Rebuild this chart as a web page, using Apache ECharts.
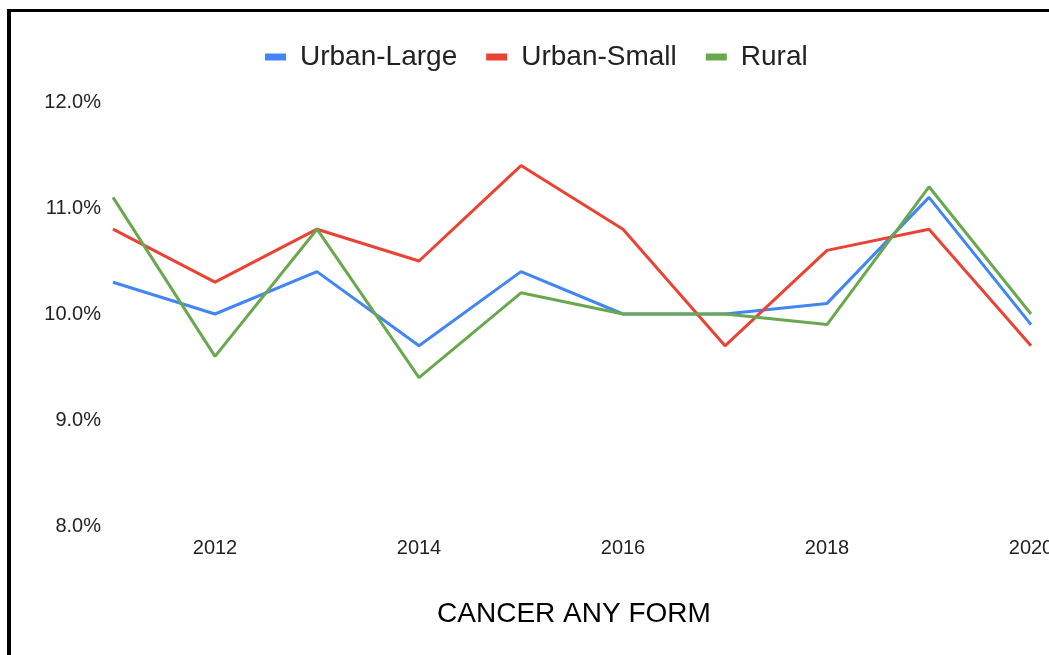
<!DOCTYPE html>
<html>
<head>
<meta charset="utf-8">
<title>CANCER ANY FORM</title>
<script src="https://cdn.jsdelivr.net/npm/echarts@6/dist/echarts.min.js"></script>
<style>
  html, body { margin: 0; padding: 0; background: #fff; overflow: hidden; }
  #frame {
    position: absolute; left: 7px; top: 9px; width: 1200px; height: 800px;
    border-left: 4px solid #000; border-top: 3px solid #000;
  }
  #chart { position: absolute; left: 0; top: 0; width: 1049px; height: 655px; }
</style>
</head>
<body>
<div id="frame"></div>
<div id="chart"></div>
<script>
// Years on the horizontal axis
const years = ['2011', '2012', '2013', '2014', '2015', '2016', '2017', '2018', '2019', '2020'];

// Share of population (%) by area type
const urbanLarge = [10.3, 10.0, 10.4, 9.7, 10.4, 10.0, 10.0, 10.1, 11.1, 9.9];
const urbanSmall = [10.8, 10.3, 10.8, 10.5, 11.4, 10.8, 9.7, 10.6, 10.8, 9.7];
const rural = [11.1, 9.6, 10.8, 9.4, 10.2, 10.0, 10.0, 9.9, 11.2, 10.0];

// Value axis range and step
const yMin = 8;
const yMax = 12;
const yStep = 1;

const font = 'Arial, "Liberation Sans", sans-serif';

const chart = echarts.init(document.getElementById('chart'), null, { renderer: 'canvas' });

function lineSeries(name, data, color) {
  return {
    name: name,
    type: 'line',
    data: data,
    symbol: 'none',
    smooth: false,
    lineStyle: { width: 3, color: color },
    itemStyle: { color: color },
    emphasis: { disabled: true }
  };
}

chart.setOption({
  animation: false,
  backgroundColor: 'transparent',
  textStyle: { fontFamily: font },
  title: {
    text: 'CANCER ANY FORM',
    left: 569,
    textAlign: 'center',
    top: 595,
    textStyle: { fontFamily: font, fontSize: 28, fontWeight: 'normal', color: '#000' }
  },
  legend: {
    left: 265,
    top: 43,
    padding: 0,
    icon: 'rect',
    itemWidth: 21,
    itemHeight: 7,
    itemGap: 29,
    textStyle: { fontFamily: font, fontSize: 28, color: '#222', padding: [0, 0, 0, 9] },
    data: ['Urban-Large', 'Urban-Small', 'Rural']
  },
  grid: { left: 113, right: 18, top: 102, bottom: 129, containLabel: false, outerBoundsMode: 'none' },
  xAxis: {
    type: 'category',
    data: years,
    boundaryGap: false,
    axisLine: { show: false },
    axisTick: { show: false },
    splitLine: { show: false },
    axisLabel: {
      interval: function (index) { return index % 2 === 1; },
      margin: 12,
      fontFamily: font,
      fontSize: 20,
      color: '#222'
    }
  },
  yAxis: {
    type: 'value',
    min: yMin,
    max: yMax,
    interval: yStep,
    axisLine: { show: false },
    axisTick: { show: false },
    splitLine: { show: false },
    axisLabel: {
      margin: 12,
      fontFamily: font,
      fontSize: 20,
      color: '#222',
      formatter: function (v) { return v.toFixed(1) + '%'; }
    }
  },
  series: [
    lineSeries('Urban-Large', urbanLarge, '#4285F4'),
    lineSeries('Urban-Small', urbanSmall, '#EA4335'),
    lineSeries('Rural', rural, '#6AA84F')
  ]
});
</script>
</body>
</html>
